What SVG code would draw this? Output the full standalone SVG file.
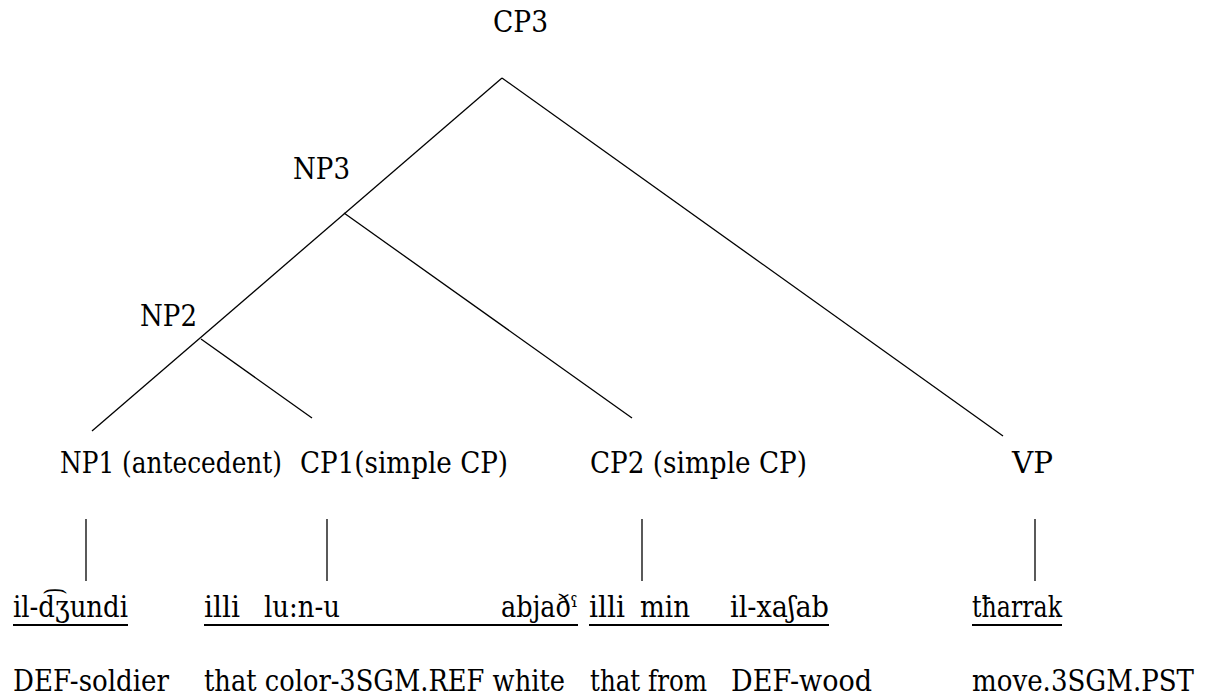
<svg xmlns="http://www.w3.org/2000/svg" width="1205" height="698" viewBox="0 0 1205 698">
  <style>
    text { font-family: 'DejaVu Serif', serif; font-size: 29px; fill: #000; }
    .edge { stroke: #000; stroke-width: 1.3; fill: none; }
    .uline { stroke: #000; stroke-width: 2; }
  </style>
  <rect width="1205" height="698" fill="#fff"/>

  <!-- tree branches -->
  <g id="connectors">
    <line class="edge" x1="502" y1="78" x2="92" y2="431"/>
    <line class="edge" x1="502" y1="78" x2="1003" y2="436"/>
    <line class="edge" x1="344" y1="213" x2="632" y2="418"/>
    <line class="edge" x1="201" y1="339" x2="312" y2="418"/>
    <line class="edge" x1="86" y1="519" x2="86" y2="581"/>
    <line class="edge" x1="327" y1="519" x2="327" y2="581"/>
    <line class="edge" x1="642" y1="519" x2="642" y2="581"/>
    <line class="edge" x1="1035" y1="519" x2="1035" y2="581"/>
  </g>

  <g id="cp3"><text x="493" y="32" textLength="55" lengthAdjust="spacingAndGlyphs">CP3</text></g>
  <g id="np3"><text x="293" y="179" textLength="57" lengthAdjust="spacingAndGlyphs">NP3</text></g>
  <g id="np2"><text x="140" y="326" textLength="57" lengthAdjust="spacingAndGlyphs">NP2</text></g>
  <g id="np1"><text x="60" y="473" textLength="222" lengthAdjust="spacingAndGlyphs">NP1 (antecedent)</text></g>
  <g id="cp1"><text x="300" y="473" textLength="208" lengthAdjust="spacingAndGlyphs">CP1(simple CP)</text></g>
  <g id="cp2"><text x="590" y="473" textLength="217" lengthAdjust="spacingAndGlyphs">CP2 (simple CP)</text></g>
  <g id="vp"><text x="1012" y="473" textLength="41" lengthAdjust="spacingAndGlyphs">VP</text></g>

  <!-- transcription row -->
  <g id="words">
    <text x="13" y="617" textLength="115" lengthAdjust="spacingAndGlyphs">il-d͡ʒundi</text>
    <line class="uline" x1="13" y1="625" x2="128" y2="625"/>
    <text x="204" y="617" textLength="36" lengthAdjust="spacingAndGlyphs">illi</text>
    <text x="264" y="617" textLength="76" lengthAdjust="spacingAndGlyphs">lu:n-u</text>
    <text x="501" y="617" textLength="77" lengthAdjust="spacingAndGlyphs">abjaðˤ</text>
    <line class="uline" x1="204" y1="625" x2="578" y2="625"/>
    <text x="589" y="617" textLength="36" lengthAdjust="spacingAndGlyphs">illi</text>
    <text x="640" y="617" textLength="50" lengthAdjust="spacingAndGlyphs">min</text>
    <text x="730" y="617" textLength="99" lengthAdjust="spacingAndGlyphs">il-xaʃab</text>
    <line class="uline" x1="589" y1="625" x2="829" y2="625"/>
    <text x="972" y="617" textLength="90" lengthAdjust="spacingAndGlyphs">tħarrak</text>
    <line class="uline" x1="972" y1="625" x2="1062" y2="625"/>
  </g>

  <!-- gloss row -->
  <g id="glosses">
    <text x="13" y="691" textLength="156" lengthAdjust="spacingAndGlyphs">DEF-soldier</text>
    <text x="204" y="691" textLength="361" lengthAdjust="spacingAndGlyphs">that color-3SGM.REF white</text>
    <text x="590" y="691" textLength="117" lengthAdjust="spacingAndGlyphs">that from</text>
    <text x="731" y="691" textLength="141" lengthAdjust="spacingAndGlyphs">DEF-wood</text>
    <text x="972" y="691" textLength="222" lengthAdjust="spacingAndGlyphs">move.3SGM.PST</text>
  </g>
</svg>
